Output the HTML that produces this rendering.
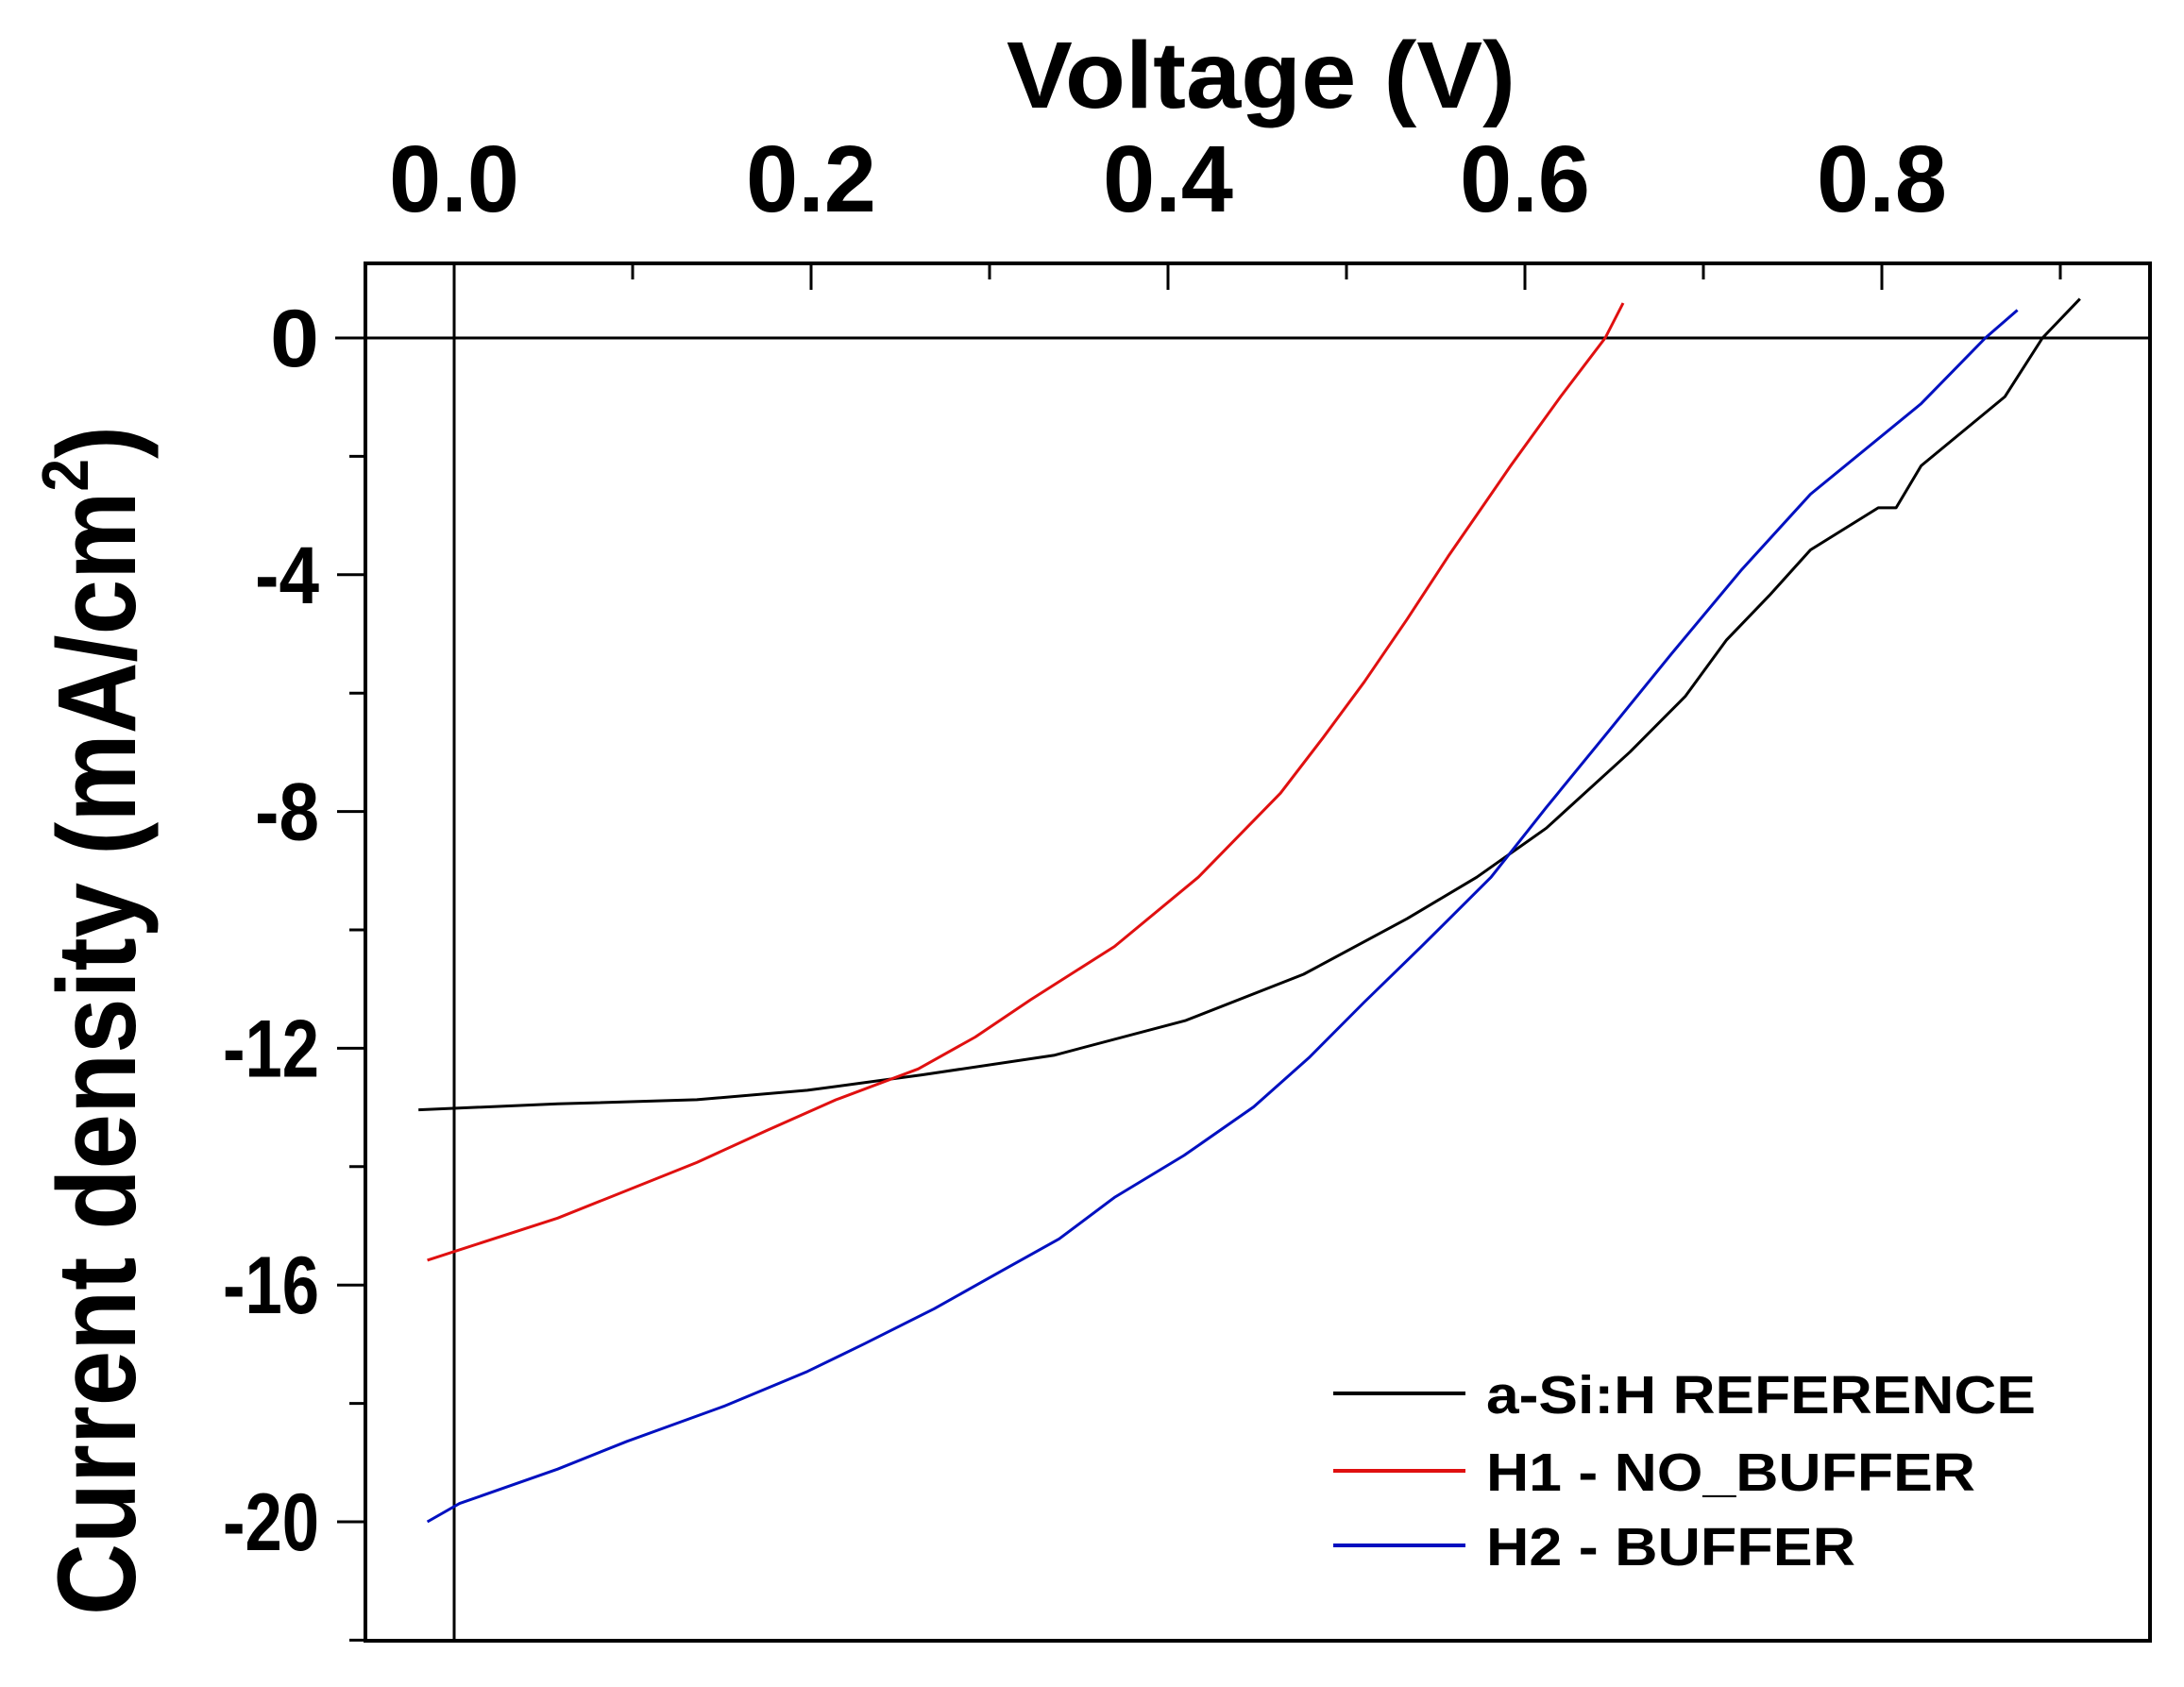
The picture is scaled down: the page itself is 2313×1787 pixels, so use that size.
<!DOCTYPE html>
<html><head><meta charset="utf-8"><style>
html,body{margin:0;padding:0;background:#fff;}
svg{display:block;font-family:"Liberation Sans",Arial,sans-serif;font-weight:bold;}
</style></head><body>
<svg id="chart" width="2313" height="1787" viewBox="0 0 2313 1787" xmlns="http://www.w3.org/2000/svg">
<g id="axes"></g>
<g id="series"></g>
<g id="legend"></g>
</svg>
<script>
const xTicks=[0.0,0.2,0.4,0.6,0.8];
const xTickLabels=["0.0","0.2","0.4","0.6","0.8"];
const yTicks=[0,-4,-8,-12,-16,-20];
const yTickLabels=["0","-4","-8","-12","-16","-20"];
const seriesNames=["a-Si:H REFERENCE","H1 - NO_BUFFER","H2 - BUFFER"];
const refV=[-0.02,0.058,0.136,0.198,0.262,0.336,0.41,0.476,0.534,0.573,0.612,0.659,0.69,0.713,0.737,0.76,0.798,0.808,0.822,0.869,0.89,0.911];
const refJ=[-13.04,-12.94,-12.87,-12.71,-12.45,-12.12,-11.53,-10.75,-9.81,-9.11,-8.28,-6.99,-6.05,-5.1,-4.35,-3.58,-2.87,-2.87,-2.16,-0.99,0,0.66];
const h1V=[-0.015,0.058,0.136,0.175,0.214,0.26,0.292,0.323,0.37,0.417,0.463,0.487,0.51,0.534,0.557,0.573,0.592,0.62,0.645,0.655];
const h1J=[-15.58,-14.87,-13.93,-13.39,-12.87,-12.35,-11.81,-11.18,-10.28,-9.11,-7.69,-6.75,-5.81,-4.75,-3.69,-2.99,-2.16,-0.99,0,0.59];
const h2V=[-0.015,0.003,0.058,0.097,0.151,0.198,0.23,0.269,0.308,0.339,0.37,0.409,0.448,0.479,0.51,0.542,0.581,0.612,0.647,0.682,0.721,0.76,0.822,0.858,0.876];
const h2J=[-20,-19.69,-19.11,-18.64,-18.05,-17.46,-16.99,-16.4,-15.74,-15.22,-14.52,-13.81,-12.99,-12.16,-11.22,-10.28,-9.11,-7.93,-6.64,-5.34,-3.93,-2.64,-1.11,0,0.47];

const NS="http://www.w3.org/2000/svg";
const L=387,R=2277,T=279,B=1738;
const X0=481,XS=1890;
const Y0=358,YS=62.7;
function sx(v){return X0+v*XS;}
function sy(j){return Y0-j*YS;}
function mk(tag,attrs,parent){const e=document.createElementNS(NS,tag);for(const k in attrs)e.setAttribute(k,attrs[k]);parent.appendChild(e);return e;}
const axes=document.getElementById('axes');
let f=mk('rect',{x:L,y:T,width:R-L,height:B-T,fill:'none',stroke:'#000','stroke-width':4},axes);


let zl=mk('line',{x1:355,y1:sy(0),x2:R,y2:sy(0),stroke:'#000','stroke-width':3},axes);


let vl=mk('line',{x1:sx(0),y1:T,x2:sx(0),y2:B,stroke:'#000','stroke-width':3},axes);


for(let i=1;i<=9;i++){const v=i*0.1;const len=(i%2==0)?28:17;
 let t=mk('line',{x1:sx(v),y1:T,x2:sx(v),y2:T+len,stroke:'#000','stroke-width':3},axes);
 
 }
for(let j=0;j>=-22;j-=2){const major=(j%4==0);
 let t=mk('line',{x1:major?357:370,y1:sy(j),x2:L,y2:sy(j),stroke:'#000','stroke-width':3},axes);
 
 }
xTicks.forEach((v,i)=>{let t=mk('text',{x:sx(v),y:224,'text-anchor':'middle','font-size':100,textLength:138,lengthAdjust:'spacingAndGlyphs'},axes);
 t.textContent=xTickLabels[i];
 
 });
yTicks.forEach((v,i)=>{const s=yTickLabels[i];let t=mk('text',{x:338,y:sy(v)+30,'text-anchor':'end','font-size':86,textLength:s.length*34+(s.length>1?0:18),lengthAdjust:'spacingAndGlyphs'},axes);
 t.textContent=s;
 
 });
let xt=mk('text',{x:1066,y:114,'font-size':100,textLength:539,lengthAdjust:'spacingAndGlyphs'},axes);
xt.textContent='Voltage (V)';


let yt=mk('text',{transform:'translate(143,1711) rotate(-90)','font-size':118,textLength:1260,lengthAdjust:'spacingAndGlyphs'},axes);
yt.innerHTML='Current density (mA/cm<tspan dy="-50" font-size="70">2</tspan><tspan dy="50">)</tspan>';


const ser=document.getElementById('series');
const data=[[refV,refJ,'#000','ref-curve'],[h1V,h1J,'#e01010','h1-no-buffer-curve'],[h2V,h2J,'#0010c0','h2-buffer-curve']];
data.forEach(d=>{const pts=d[0].map((v,i)=>sx(v).toFixed(1)+','+sy(d[1][i]).toFixed(1)).join(' ');
 let p=mk('polyline',{points:pts,fill:'none',stroke:d[2],'stroke-width':3,'stroke-linejoin':'round'},ser);
 
 });
const lg=document.getElementById('legend');
const ly=[1476,1558,1637],lw=[582,518,391];
seriesNames.forEach((n,i)=>{
 let l=mk('line',{x1:1412,y1:ly[i],x2:1552,y2:ly[i],stroke:data[i][2],'stroke-width':4},lg);
 
 
 let t=mk('text',{x:1574,y:ly[i]+21,'font-size':57,textLength:lw[i],lengthAdjust:'spacingAndGlyphs'},lg);
 t.textContent=n;
 
 });
</script>
</body></html>
